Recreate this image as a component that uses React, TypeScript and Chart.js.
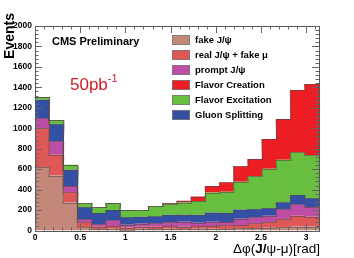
import { useEffect, useRef } from "react";
import { Chart, registerables } from "chart.js";

Chart.register(...registerables);

// ---- data (events per bin, 20 bins from 0 to pi) ----
const binCount = 20;
const xMax = Math.PI;
const fakeJpsi = [620, 537, 273, 31, 15, 16, 5, 16, 15, 18, 12, 18, 18, 12, 22, 25, 28, 32, 38, 38];
const realJpsiFakeMu = [380, 203, 101, 49, 22, 28, 24, 21, 22, 26, 25, 26, 26, 39, 33, 45, 52, 78, 107, 97];
const promptJpsi = [98, 131, 62, 28, 24, 56, 27, 30, 35, 36, 48, 32, 42, 32, 60, 59, 65, 98, 110, 95];
const gluonSplitting = [180, 169, 157, 120, 111, 100, 74, 68, 66, 74, 70, 79, 89, 89, 90, 79, 72, 67, 92, 85];
const flavorExcitation = [27, 38, 49, 37, 55, 70, 71, 62, 98, 102, 118, 134, 196, 208, 271, 322, 388, 416, 416, 422];
const flavorCreation = [0, 0, 0, 0, 0, 0, 0, 0, 0, 10, 17, 43, 65, 90, 152, 170, 290, 399, 612, 695];

const xTickValues = [0, 0.5, 1, 1.5, 2, 2.5, 3];
const yTickValues = [0, 200, 400, 600, 800, 1000, 1200, 1400, 1600, 1800, 2000];
const yMax = 2000;

const colors = {
  fake: "rgb(196,136,122)",
  real: "rgb(222,88,88)",
  prompt: "rgb(190,78,165)",
  fc: "rgb(236,30,36)",
  fe: "rgb(104,190,62)",
  gs: "rgb(52,80,165)",
};

const stackSeries = [
  { label: "fake J/\u03c8", data: fakeJpsi, color: colors.fake },
  { label: "real J/\u03c8 + fake \u03bc", data: realJpsiFakeMu, color: colors.real },
  { label: "prompt J/\u03c8", data: promptJpsi, color: colors.prompt },
  { label: "Gluon Splitting", data: gluonSplitting, color: colors.gs },
  { label: "Flavor Excitation", data: flavorExcitation, color: colors.fe },
  { label: "Flavor Creation", data: flavorCreation, color: colors.fc },
];

const legendItems = [
  { text: "fake J/\u03c8", color: colors.fake },
  { text: "real J/\u03c8 + fake \u03bc", color: colors.real },
  { text: "prompt J/\u03c8", color: colors.prompt },
  { text: "Flavor Creation", color: colors.fc },
  { text: "Flavor Excitation", color: colors.fe },
  { text: "Gluon Splitting", color: colors.gs },
];

const FONT = "'Liberation Sans', Arial, Helvetica, sans-serif";

// outlines of each cumulative layer (histogram step outline), drawn from the bar elements
const outlinePlugin = {
  id: "outline",
  afterDatasetsDraw(chart: any) {
    const ctx = chart.ctx as CanvasRenderingContext2D;
    ctx.save();
    ctx.lineWidth = 1;
    ctx.strokeStyle = "rgba(80,70,70,0.55)";
    chart.data.datasets.forEach((_: any, di: number) => {
      const meta = chart.getDatasetMeta(di);
      ctx.beginPath();
      meta.data.forEach((bar: any, i: number) => {
        const left = bar.x - bar.width / 2;
        const right = bar.x + bar.width / 2;
        const y = Math.round(bar.y) + 0.5;
        if (i === 0) ctx.moveTo(left, y);
        else ctx.lineTo(left, y);
        ctx.lineTo(right, y);
      });
      ctx.stroke();
    });
    ctx.restore();
  },
};

const decorPlugin = {
  id: "decor",
  afterDraw(chart: any) {
    const ctx = chart.ctx as CanvasRenderingContext2D;
    const area = chart.chartArea;
    const xs = chart.scales.x;
    const ys = chart.scales.y;
    ctx.save();
    // frame
    ctx.strokeStyle = "#555";
    ctx.lineWidth = 1;
    ctx.strokeRect(Math.round(area.left) + 0.5, Math.round(area.top) + 0.5,
      Math.round(area.right - area.left), Math.round(area.bottom - area.top));
    // ticks (inside, all four sides)
    ctx.beginPath();
    for (let v = 0; v <= xMax + 1e-9; v += 0.1) {
      const major = Math.abs(v / 0.5 - Math.round(v / 0.5)) < 1e-6;
      const len = major ? 7 : 3.5;
      const px = Math.round(xs.getPixelForValue(v)) + 0.5;
      ctx.moveTo(px, area.bottom);
      ctx.lineTo(px, area.bottom - len);
      ctx.moveTo(px, area.top);
      ctx.lineTo(px, area.top + len);
    }
    for (let v = 0; v <= yMax + 1e-9; v += 40) {
      const major = v % 200 === 0;
      const len = major ? 7 : 3.5;
      const py = Math.round(ys.getPixelForValue(v)) + 0.5;
      ctx.moveTo(area.left, py);
      ctx.lineTo(area.left + len, py);
      ctx.moveTo(area.right, py);
      ctx.lineTo(area.right - len, py);
    }
    ctx.strokeStyle = "#666";
    ctx.stroke();

    // y title
    ctx.save();
    ctx.translate(14, 13);
    ctx.rotate(-Math.PI / 2);
    ctx.font = `bold 14px ${FONT}`;
    ctx.fillStyle = "#000";
    ctx.textAlign = "right";
    ctx.textBaseline = "alphabetic";
    ctx.fillText("Events", 0, 0);
    ctx.restore();

    // x title with bold J/
    const segs = [
      { t: "\u0394\u03c6(", b: false },
      { t: "J/", b: true },
      { t: "\u03c8-\u03bc)[rad]", b: false },
    ];
    let total = 0;
    const widths = segs.map((s) => {
      ctx.font = `${s.b ? "bold " : ""}13.5px ${FONT}`;
      const w = ctx.measureText(s.t).width;
      total += w;
      return w;
    });
    let x = 320 - total;
    ctx.fillStyle = "#000";
    ctx.textAlign = "left";
    ctx.textBaseline = "alphabetic";
    segs.forEach((s, i) => {
      ctx.font = `${s.b ? "bold " : ""}13.5px ${FONT}`;
      ctx.fillText(s.t, x, 253);
      x += widths[i];
    });

    // CMS Preliminary
    ctx.font = `bold 11px ${FONT}`;
    ctx.fillStyle = "#000";
    ctx.fillText("CMS Preliminary", 52, 45);

    // luminosity
    ctx.font = `17px ${FONT}`;
    ctx.fillStyle = "rgb(205,30,40)";
    ctx.fillText("50pb", 70, 90);
    const lw = ctx.measureText("50pb").width;
    ctx.font = `11px ${FONT}`;
    ctx.fillText("-1", 70 + lw, 82);

    // legend
    legendItems.forEach((it, i) => {
      const cy = 40 + i * 15;
      ctx.fillStyle = it.color;
      ctx.fillRect(172, cy - 5, 18, 10);
      ctx.strokeStyle = "rgba(120,120,120,0.8)";
      ctx.lineWidth = 1;
      ctx.strokeRect(172.5, cy - 4.5, 17, 9);
      ctx.fillStyle = "#000";
      ctx.font = `bold 9.5px ${FONT}`;
      ctx.textBaseline = "middle";
      ctx.fillText(it.text, 195, cy + 0.5);
    });
    ctx.restore();
  },
};

export default function App() {
  const ref = useRef<HTMLCanvasElement | null>(null);
  useEffect(() => {
    document.body.style.margin = "0";
    const binWidth = xMax / binCount;
    const centers = fakeJpsi.map((_, i) => (i + 0.5) * binWidth);
    const chart = new Chart(ref.current as HTMLCanvasElement, {
      type: "bar",
      data: {
        datasets: stackSeries.map((s) => ({
          label: s.label,
          data: s.data.map((v, i) => ({ x: centers[i], y: v })),
          backgroundColor: s.color,
          borderWidth: 0,
          inflateAmount: 0,
          barPercentage: 1,
          categoryPercentage: 1.06,
        })),
      },
      options: {
        responsive: false,
        animation: false,
        devicePixelRatio: 1,
        layout: { padding: { top: 26, right: 35, left: 0, bottom: 0 } },
        plugins: { legend: { display: false }, tooltip: { enabled: false } },
        scales: {
          x: {
            type: "linear",
            stacked: true,
            min: 0,
            max: xMax,
            offset: false,
            grid: { display: false, drawTicks: false },
            border: { display: false },
            afterBuildTicks: (s: any) => {
              s.ticks = xTickValues.map((v) => ({ value: v }));
            },
            afterFit: (s: any) => {
              s.height = 27.5;
            },
            ticks: {
              padding: 2,
              maxRotation: 0,
              autoSkip: false,
              color: "#000",
              font: { family: FONT, size: 8.5, weight: "bold" },
              callback: (v: any) => String(v),
            },
          },
          y: {
            stacked: true,
            min: 0,
            max: yMax,
            grid: { display: false, drawTicks: false },
            border: { display: false },
            afterBuildTicks: (s: any) => {
              s.ticks = yTickValues.map((v) => ({ value: v }));
            },
            afterFit: (s: any) => {
              s.width = 35;
            },
            ticks: {
              padding: 3,
              autoSkip: false,
              color: "#000",
              font: { family: FONT, size: 8.5, weight: "bold" },
              callback: (v: any) => String(v),
            },
          },
        },
      },
      plugins: [outlinePlugin, decorPlugin],
    } as any);
    return () => chart.destroy();
  }, []);
  return (
    <div style={{ position: "fixed", left: 0, top: 0, width: 354, height: 258, background: "#fff" }}>
      <canvas ref={ref} width={354} height={258} style={{ width: 354, height: 258 }} />
    </div>
  );
}
